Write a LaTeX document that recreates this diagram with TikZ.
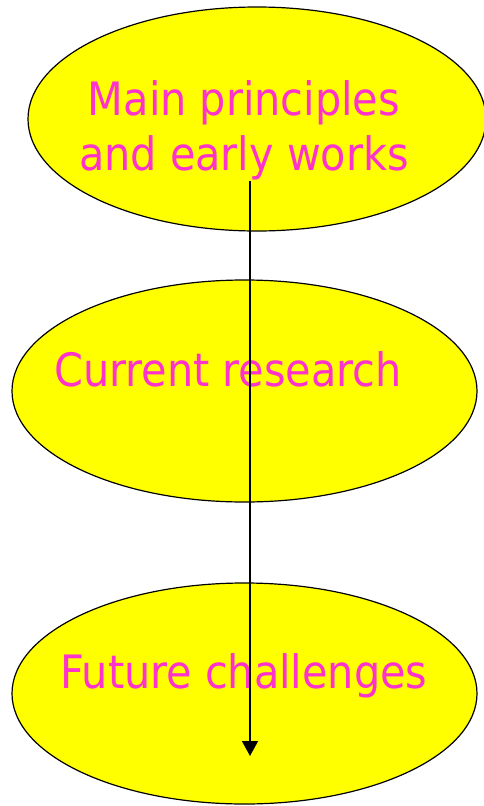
\documentclass[tikz,border=0pt]{standalone}
\usepackage{fontspec}
\setmainfont{DejaVu Sans Condensed}
\usetikzlibrary{shapes.geometric,arrows.meta}
\definecolor{lbl}{HTML}{FF33CC}
\definecolor{fillY}{HTML}{FFFF00}
\begin{document}
\begin{tikzpicture}[x=1pt,y=-1pt,
  oval/.style={ellipse,draw=black,line width=1.2pt,fill=fillY,inner sep=0pt},
  lab/.style={text=lbl,font=\fontsize{46}{55}\selectfont,anchor=base,inner sep=0pt}]
\useasboundingbox (0,0) rectangle (483,806);
\node[oval,minimum width=458pt,minimum height=224pt] (top) at (257,119) {};
\node[oval,minimum width=465pt,minimum height=222pt] (mid) at (244.5,391) {};
\node[oval,minimum width=465pt,minimum height=221pt] (bot) at (244.5,693.5) {};
\node[lab] (t1) at (244,115) {Main principles};
\node[lab] (t2) at (244,170) {and early works};
\node[lab] (t3) at (228,386) {Current research};
\node[lab] (t4) at (244,688) {Future challenges};
\coordinate (s) at (250,181);
\coordinate (e) at (250,756);
\draw[line width=1.5pt,-{Triangle[width=16pt,length=15pt]}] (s) -- (e);
\end{tikzpicture}
\end{document}
